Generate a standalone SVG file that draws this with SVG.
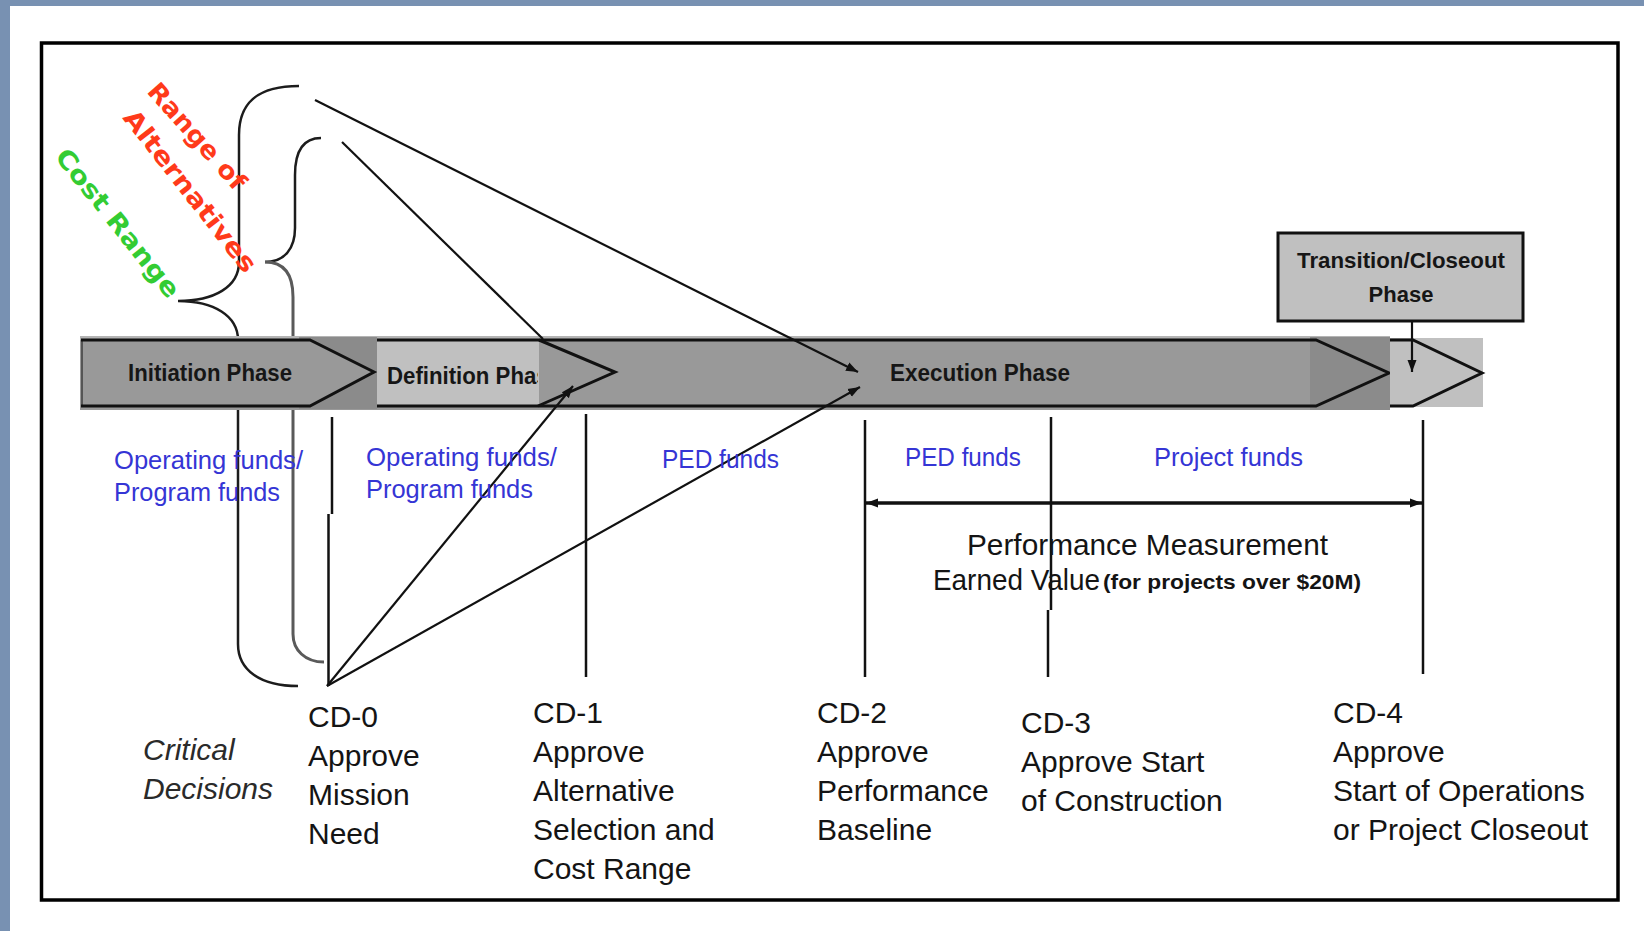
<svg xmlns="http://www.w3.org/2000/svg" width="1644" height="931" viewBox="0 0 1644 931">
  <defs>
    <style>
      text { font-family: "Liberation Sans", Arial, sans-serif; }
      .phase { font-size: 24px; font-weight: bold; fill: #161616; }
      .trans { font-size: 22px; font-weight: bold; fill: #161616; text-anchor: middle; }
      .fund { font-size: 25px; fill: #3535d5; }
      .cd { font-size: 30px; fill: #141414; }
      .crit { font-size: 30px; font-style: italic; fill: #2a2a2a; }
      .pm { font-size: 30px; fill: #141414; }
      .pm-small { font-size: 21px; font-weight: bold; fill: #141414; }
      .rot { font-family: "DejaVu Sans", "Liberation Sans", sans-serif; font-size: 25px; font-weight: bold; }
      .edge { stroke: #111; stroke-width: 3; fill: none; stroke-linejoin: miter; }
      .ln { stroke: #111; stroke-width: 2.2; fill: none; }
      .vline { stroke: #111; stroke-width: 2.5; fill: none; }
      .brace { stroke: #1c1c1c; stroke-width: 2.5; fill: none; }
    </style>
    <marker id="arrow" viewBox="0 0 12 10" refX="12" refY="5" markerWidth="12" markerHeight="10" markerUnits="userSpaceOnUse" orient="auto-start-reverse">
      <path d="M0,0.5 L12,5 L0,9.5 z" fill="#111"/>
    </marker>
    <clipPath id="def-clip">
      <rect x="377" y="338" width="161" height="70"/>
    </clipPath>
  </defs>

  <!-- page background and frame -->
  <rect x="0" y="0" width="1644" height="931" fill="#ffffff"/>
  <rect x="0" y="0" width="1644" height="6" fill="#7891b2"/>
  <rect x="0" y="0" width="10" height="931" fill="#7891b2"/>
  <rect x="41.5" y="43" width="1576.5" height="857" fill="none" stroke="#000" stroke-width="3.5"/>

  <!-- range braces (drawn below the phase bar) -->
  <g id="braces">
    <path class="brace" d="M299,86 C257,86 239,103 239,135 L239,262 C239,287 214,301 178,301 C214,301 238,316 238,340 L238,644 C238,670 260,686 298,686"/>
    <path class="brace" d="M321,138 C303,138 295,152 295,175 L295,228 C295,248 285,262 265,262"/>
    <path d="M265,262 C285,262 293,276 293,297 L293,634 C293,650 305,662 324,662" fill="none" stroke="#5a5a5a" stroke-width="3"/>
  </g>

  <g id="range-labels">
    <text class="rot" fill="#ff3a1a" transform="translate(146,92) rotate(48.3)" textLength="134" lengthAdjust="spacingAndGlyphs">Range of</text>
    <text class="rot" fill="#ff3a1a" transform="translate(122,118) rotate(51.9)" textLength="199" lengthAdjust="spacingAndGlyphs">Alternatives</text>
    <text class="rot" fill="#33cc33" transform="translate(54,157) rotate(51.4)" textLength="183" lengthAdjust="spacingAndGlyphs">Cost Range</text>
  </g>

  <!-- phase bar -->
  <g id="phase-bar">
    <rect x="80" y="336" width="1310" height="5" fill="#b4b4b4"/>
    <rect x="80" y="340" width="1310" height="70" fill="#999999"/>
    <rect x="299" y="337" width="78" height="72" fill="#8b8b8b"/>
    <rect x="1310" y="337" width="80" height="73" fill="#8b8b8b"/>
  </g>

  <g id="initiation-phase">
    <polygon points="81,340 310,340 374,372 310,406 81,406" fill="#999999"/>
    <line x1="82" y1="340" x2="82" y2="406" stroke="#555" stroke-width="2"/>
    <polyline class="edge" points="81,340 310,340 374,372 310,406 81,406"/>
    <text class="phase" x="128" y="381" textLength="164" lengthAdjust="spacingAndGlyphs">Initiation Phase</text>
  </g>

  <g id="definition-phase">
    <rect x="377" y="341" width="162" height="64" fill="#c0c0c0"/>
    <text class="phase" x="387" y="384" textLength="174" lengthAdjust="spacingAndGlyphs" clip-path="url(#def-clip)">Definition Phase</text>
    <polyline class="edge" points="539,340 615,372 538,406"/>
  </g>

  <g id="execution-phase">
    <polyline class="edge" points="377,340 1316,340 1389,373 1316,406 377,406"/>
    <text class="phase" x="890" y="381" textLength="180" lengthAdjust="spacingAndGlyphs">Execution Phase</text>
  </g>

  <g id="transition-phase">
    <rect x="1390" y="338" width="93" height="69" fill="#c0c0c0"/>
    <polyline class="edge" points="1390,340 1413,340 1482,373 1413,406 1390,406"/>
  </g>

  <g id="transition-box">
    <rect x="1278" y="233" width="245" height="88" fill="#c0c0c0" stroke="#111" stroke-width="3"/>
    <text class="trans" x="1401" y="268" textLength="208" lengthAdjust="spacingAndGlyphs">Transition/Closeout</text>
    <text class="trans" x="1401" y="302">Phase</text>
  </g>

  <!-- connectors -->
  <g id="connectors">
    <line class="ln" x1="315" y1="100" x2="858" y2="372" marker-end="url(#arrow)"/>
    <line class="ln" x1="342" y1="142" x2="543" y2="339"/>
    <line class="ln" x1="327" y1="686" x2="573" y2="386" marker-end="url(#arrow)"/>
    <line class="ln" x1="327" y1="686" x2="860" y2="387" marker-end="url(#arrow)"/>
    <line class="ln" x1="1412" y1="321" x2="1412" y2="372" marker-end="url(#arrow)"/>
    <line x1="866" y1="503" x2="1422" y2="503" stroke="#111" stroke-width="3.5" marker-start="url(#arrow)" marker-end="url(#arrow)"/>
  </g>

  <!-- decision markers -->
  <g id="decision-lines">
    <line class="vline" x1="332" y1="417" x2="332" y2="514"/>
    <line class="vline" x1="328.5" y1="514" x2="328.5" y2="686"/>
    <line class="vline" x1="586" y1="414" x2="586" y2="677"/>
    <line class="vline" x1="865" y1="420" x2="865" y2="677"/>
    <line class="vline" x1="1051" y1="417" x2="1051" y2="610"/>
    <line class="vline" x1="1048" y1="610" x2="1048" y2="677"/>
    <line class="vline" x1="1423" y1="420" x2="1423" y2="674"/>
  </g>

  <g id="funding-labels">
    <text class="fund" x="114" y="469" textLength="189" lengthAdjust="spacingAndGlyphs">Operating funds/</text>
    <text class="fund" x="114" y="501" textLength="166" lengthAdjust="spacingAndGlyphs">Program funds</text>
    <text class="fund" x="366" y="466" textLength="191" lengthAdjust="spacingAndGlyphs">Operating funds/</text>
    <text class="fund" x="366" y="498" textLength="167" lengthAdjust="spacingAndGlyphs">Program funds</text>
    <text class="fund" x="662" y="468" textLength="117" lengthAdjust="spacingAndGlyphs">PED funds</text>
    <text class="fund" x="905" y="466" textLength="116" lengthAdjust="spacingAndGlyphs">PED funds</text>
    <text class="fund" x="1154" y="466" textLength="149" lengthAdjust="spacingAndGlyphs">Project funds</text>
  </g>

  <g id="performance-measurement">
    <text class="pm" x="967" y="555" textLength="361" lengthAdjust="spacingAndGlyphs">Performance Measurement</text>
    <text class="pm" x="933" y="590" textLength="167" lengthAdjust="spacingAndGlyphs">Earned Value</text>
    <text class="pm-small" x="1103" y="589" textLength="258" lengthAdjust="spacingAndGlyphs">(for projects over $20M)</text>
  </g>

  <g id="critical-decisions">
    <text class="crit" x="143" y="760">Critical</text>
    <text class="crit" x="143" y="799">Decisions</text>
  </g>

  <g id="cd-0">
    <text class="cd" x="308" y="727">CD-0</text>
    <text class="cd" x="308" y="766">Approve</text>
    <text class="cd" x="308" y="805">Mission</text>
    <text class="cd" x="308" y="844">Need</text>
  </g>

  <g id="cd-1">
    <text class="cd" x="533" y="723">CD-1</text>
    <text class="cd" x="533" y="762">Approve</text>
    <text class="cd" x="533" y="801">Alternative</text>
    <text class="cd" x="533" y="840">Selection and</text>
    <text class="cd" x="533" y="879">Cost Range</text>
  </g>

  <g id="cd-2">
    <text class="cd" x="817" y="723">CD-2</text>
    <text class="cd" x="817" y="762">Approve</text>
    <text class="cd" x="817" y="801">Performance</text>
    <text class="cd" x="817" y="840">Baseline</text>
  </g>

  <g id="cd-3">
    <text class="cd" x="1021" y="733">CD-3</text>
    <text class="cd" x="1021" y="772">Approve Start</text>
    <text class="cd" x="1021" y="811">of Construction</text>
  </g>

  <g id="cd-4">
    <text class="cd" x="1333" y="723">CD-4</text>
    <text class="cd" x="1333" y="762">Approve</text>
    <text class="cd" x="1333" y="801">Start of Operations</text>
    <text class="cd" x="1333" y="840">or Project Closeout</text>
  </g>
</svg>
